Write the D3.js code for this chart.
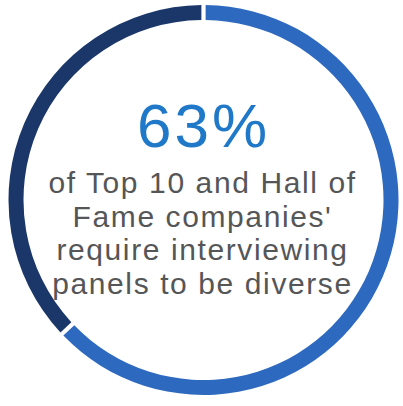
<!DOCTYPE html>
<html>
<head>
<meta charset="utf-8">
<script src="https://cdn.jsdelivr.net/npm/d3@7"></script>
<style>
  html, body { margin: 0; padding: 0; background: #ffffff; }
  svg { display: block; }
</style>
</head>
<body>
<svg id="chart" width="403" height="406"></svg>
<script>
// Share of companies: requiring diverse panels vs. not
const segments = ["Require diverse panels", "Other"];
const shares = [63, 37];
const segmentColors = ["#2d69bf", "#1b3769"];

const headline = "63%";
const captionLines = [
  "of Top 10 and Hall of",
  "Fame companies'",
  "require interviewing",
  "panels to be diverse"
];

const width = 403, height = 406;
const cx = 203.5, cy = 200;
const outerR = 195, innerR = 180;

const svg = d3.select("#chart");
const g = svg.append("g").attr("transform", `translate(${cx},${cy})`);

const pie = d3.pie().sort(null).value(d => d.value).padAngle(0.016);
const arc = d3.arc().innerRadius(innerR).outerRadius(outerR);

const data = segments.map((s, i) => ({ name: s, value: shares[i] }));

g.selectAll("path.seg")
  .data(pie(data))
  .join("path")
  .attr("class", "seg")
  .attr("d", arc)
  .attr("fill", (d, i) => segmentColors[i]);

// Big percentage
svg.append("text")
  .attr("x", 203.5)
  .attr("y", 147)
  .attr("text-anchor", "middle")
  .attr("font-family", "Liberation Sans, Arial, sans-serif")
  .attr("font-size", 62)
  .attr("letter-spacing", 3)
  .attr("fill", "#1f78c8")
  .text(headline);

// Caption lines
const baselines = [193, 226.5, 260, 293.5];
svg.selectAll("text.caption")
  .data(captionLines)
  .join("text")
  .attr("class", "caption")
  .attr("x", 202.5)
  .attr("y", (d, i) => baselines[i])
  .attr("text-anchor", "middle")
  .attr("font-family", "Liberation Sans, Arial, sans-serif")
  .attr("font-size", 30)
  .attr("letter-spacing", 1.6)
  .attr("fill", "#555658")
  .text(d => d);
</script>
</body>
</html>
